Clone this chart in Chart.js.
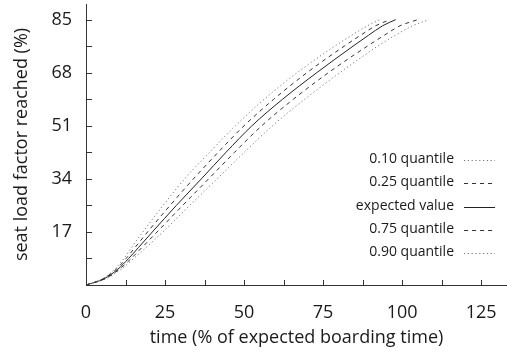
<!DOCTYPE html>
<html>
<head>
<meta charset="utf-8">
<script src="https://cdn.jsdelivr.net/npm/chart.js@4/dist/chart.umd.min.js"></script>
<style>
  html, body { margin: 0; padding: 0; background: #fff; }
  #wrap { width: 507px; height: 354px; }
</style>
</head>
<body>
<div id="wrap"><canvas id="c" width="507" height="354"></canvas></div>
<script>
// Seat load factor levels (%) and the boarding time (% of expected) at which each is reached
const loadFactor   = [0, 2, 5, 8.5, 12, 17, 25.5, 34, 42.5, 51, 59.5, 68, 76.5, 80, 83, 85];
const timeQ10      = [0, 5.2, 9, 12, 14.4, 18, 24.4, 31.2, 39.1, 47.3, 56.4, 66.8, 78.7, 84.1, 89, 93];
const timeQ25      = [0, 5.4, 9.5, 12.7, 15.5, 19.5, 26.6, 34, 41.8, 50, 59.4, 69.9, 81.7, 86.9, 91.6, 96.2];
const timeExpected = [0, 5.7, 10, 13.5, 16.6, 21, 28.6, 36.5, 44.3, 52.5, 62.2, 73, 84.5, 89.4, 93.8, 98];
const timeQ75      = [0, 6, 10.5, 14.3, 17.7, 22.5, 30.6, 38.8, 47, 55.6, 65.6, 76.7, 89, 94.4, 99.3, 105];
const timeQ90      = [0, 6.2, 11, 15.1, 19, 24.3, 32.8, 41.5, 50.1, 59, 69.2, 80.3, 92.3, 97.9, 103.3, 108.5];

const seriesLabels = ['0.10 quantile', '0.25 quantile', 'expected value', '0.75 quantile', '0.90 quantile'];

// Tick positions (major + minor) and which ones carry a label
const xTickValues = [0, 12.5, 25, 37.5, 50, 62.5, 75, 87.5, 100, 112.5, 125];
const xTickLabels = [0, 25, 50, 75, 100, 125];
const yTickValues = [0, 8.5, 17, 25.5, 34, 42.5, 51, 59.5, 68, 76.5, 85];
const yTickLabels = [17, 34, 51, 68, 85];

const FONT = "'Open Sans', 'DejaVu Sans', sans-serif";
const TEXT = '#1a1a1a';
const AXIS = '#333';

const toPoints = (times) => times.map((t, i) => ({ x: t, y: loadFactor[i] }));

const styles = [
  { color: '#777', dash: [1.2, 2.6], width: 1 },
  { color: '#333', dash: [4, 4], width: 1 },
  { color: '#222', dash: [], width: 1 },
  { color: '#333', dash: [4, 4], width: 1 },
  { color: '#777', dash: [1.2, 2.6], width: 1 }
];

const seriesTimes = [timeQ10, timeQ25, timeExpected, timeQ75, timeQ90];

const datasets = seriesTimes.map((times, i) => ({
  label: seriesLabels[i],
  data: toPoints(times),
  borderColor: styles[i].color,
  borderDash: styles[i].dash,
  borderWidth: styles[i].width,
  pointRadius: 0,
  fill: false,
  cubicInterpolationMode: 'monotone'
}));

// Keep the plot box fixed: no extra room reserved for edge labels
const noEdgePadding = (s) => {
  s.paddingTop = 0; s.paddingBottom = 0; s.paddingLeft = 0; s.paddingRight = 0;
};

// Inward tick marks on both axes
const inwardTicks = {
  id: 'inwardTicks',
  afterDatasetsDraw(chart) {
    const { ctx, scales: { x, y }, chartArea } = chart;
    ctx.save();
    ctx.strokeStyle = AXIS;
    ctx.lineWidth = 1;
    ctx.beginPath();
    xTickValues.forEach(v => {
      const px = Math.round(x.getPixelForValue(v)) + 0.5;
      ctx.moveTo(px, chartArea.bottom);
      ctx.lineTo(px, chartArea.bottom - 5);
    });
    yTickValues.forEach(v => {
      const py = Math.round(y.getPixelForValue(v)) + 0.5;
      ctx.moveTo(chartArea.left, py);
      ctx.lineTo(chartArea.left + 6, py);
    });
    ctx.stroke();
    ctx.restore();
  }
};

// Legend: right-aligned labels followed by a short line sample
const sideLegend = {
  id: 'sideLegend',
  afterDraw(chart) {
    const { ctx } = chart;
    const textRight = 454, lineStart = 464, lineEnd = 495;
    const firstRow = 160, rowGap = 23.3;
    ctx.save();
    ctx.font = '14px ' + FONT;
    ctx.fillStyle = TEXT;
    ctx.textAlign = 'right';
    ctx.textBaseline = 'middle';
    chart.data.datasets.forEach((ds, i) => {
      const yRow = firstRow + i * rowGap;
      ctx.fillText(ds.label, textRight, yRow - 1);
      ctx.beginPath();
      ctx.strokeStyle = ds.borderColor;
      ctx.lineWidth = ds.borderWidth;
      ctx.setLineDash(ds.borderDash);
      ctx.moveTo(lineStart, Math.round(yRow) + 0.5);
      ctx.lineTo(lineEnd, Math.round(yRow) + 0.5);
      ctx.stroke();
    });
    ctx.restore();
  }
};

new Chart(document.getElementById('c'), {
  type: 'line',
  data: { datasets },
  options: {
    responsive: false,
    animation: false,
    layout: { padding: { top: 4, right: 0, left: 0, bottom: 0 } },
    plugins: { legend: { display: false }, tooltip: { enabled: false } },
    scales: {
      x: {
        type: 'linear',
        min: 0,
        max: 133.2,
        afterBuildTicks: s => { s.ticks = xTickValues.map(v => ({ value: v })); },
        afterFit: s => { s.height = 69; noEdgePadding(s); },
        grid: { display: false },
        border: { display: true, color: AXIS, width: 1 },
        ticks: {
          autoSkip: false,
          maxRotation: 0,
          padding: 9,
          color: TEXT,
          font: { family: FONT, size: 18 },
          callback: v => (xTickLabels.includes(v) ? String(v) : '')
        },
        title: {
          display: true,
          text: 'time (% of expected boarding time)',
          color: TEXT,
          font: { family: FONT, size: 18 },
          padding: { top: 0, bottom: 5 }
        }
      },
      y: {
        type: 'linear',
        min: 0,
        max: 90,
        afterBuildTicks: s => { s.ticks = yTickValues.map(v => ({ value: v })); },
        afterFit: s => { s.width = 86; noEdgePadding(s); },
        grid: { display: false },
        border: { display: true, color: AXIS, width: 1 },
        ticks: {
          autoSkip: false,
          padding: 6,
          color: TEXT,
          font: { family: FONT, size: 18 },
          callback: v => (yTickLabels.includes(v) ? String(v) : '')
        },
        title: {
          display: true,
          text: 'seat load factor reached (%)',
          color: TEXT,
          font: { family: FONT, size: 18 },
          padding: { top: 11, bottom: 0 }
        }
      }
    }
  },
  plugins: [inwardTicks, sideLegend]
});
</script>
</body>
</html>
